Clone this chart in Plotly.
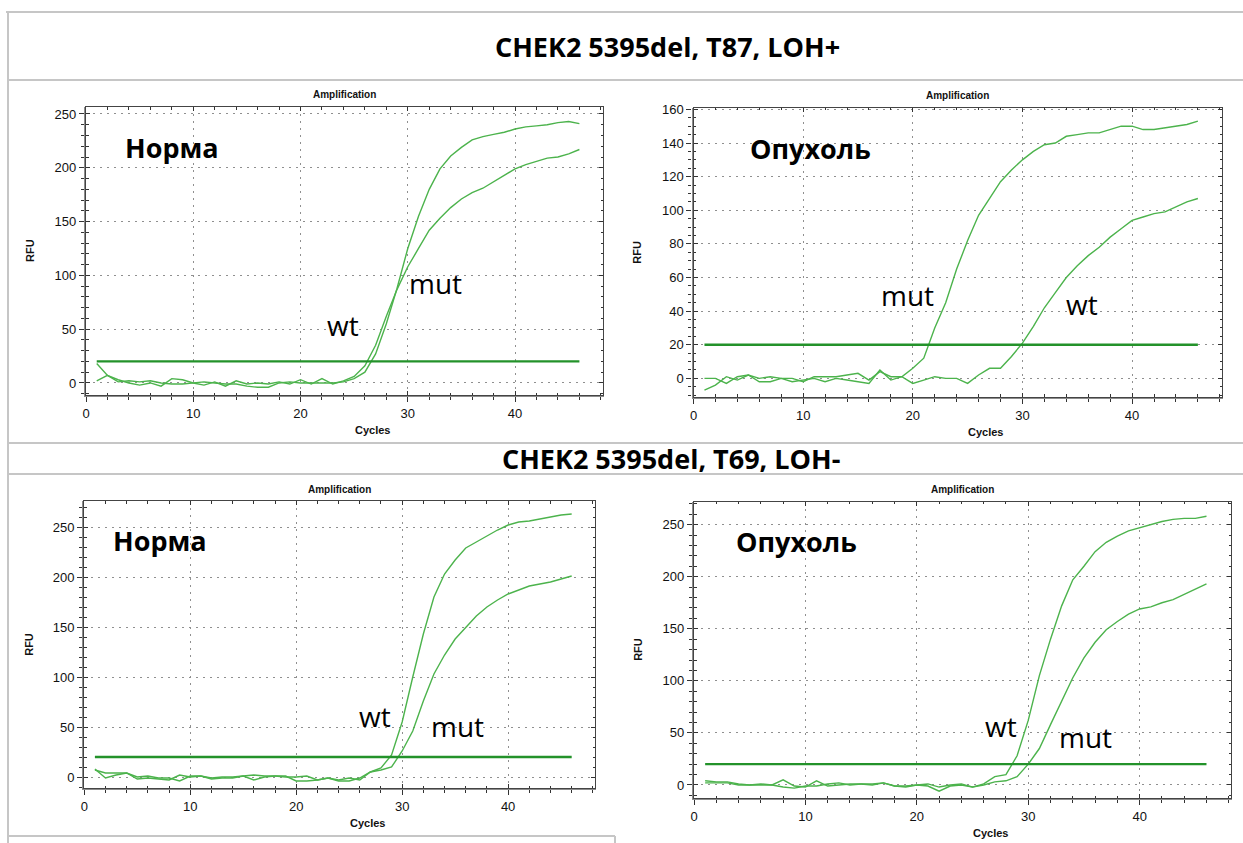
import plotly.graph_objects as go

W, H = 1243, 843
cycles = list(range(1, 47))

# ---- Panel 1: CHEK2 T87 Норма ----
p1_a = [2, 7, 1, 2, 1, 2, 0, -1, -1, 0, 1, 0, -1, -1, -3, -4, -4, 0, 1, 0, 0, 0, 0,
        1, 4, 10, 27, 55, 88, 125, 155, 180, 199, 211, 219, 226, 229, 231, 233, 236,
        238, 239, 240, 242, 243, 241]
p1_b = [18, 7, 3, 0, -2, 0, -3, 4, 3, 0, -2, 1, -3, 2, -1, 0, -1, 1, -1, 3, -1, 4, -1,
        2, 6, 16, 35, 62, 87, 108, 125, 142, 153, 163, 171, 177, 181, 187, 193, 199,
        203, 206, 209, 210, 213, 217]

# ---- Panel 2: CHEK2 T87 Опухоль ----
p2_mut = [-7, -4, 1, -1, 2, 0, 1, 0, 0, -2, 1, 1, 1, 2, 3, -1, 4, 1, 1, 6, 12, 30, 45,
          65, 82, 97, 107, 117, 124, 130, 135, 139, 140, 144, 145, 146, 146, 148, 150,
          150, 148, 148, 149, 150, 151, 153]
p2_wt = [0, 0, -3, 1, 2, -2, -2, 0, -2, -1, 0, -2, 0, -1, -2, -3, 5, -1, 1, -3, -1, 1,
         0, 0, -3, 2, 6, 6, 13, 21, 31, 42, 51, 60, 67, 73, 78, 84, 89, 94, 96, 98, 99,
         102, 105, 107]

# ---- Panel 3: CHEK2 T69 Норма ----
p3_wt = [8, -1, 2, 4, -2, -1, -2, -3, 2, 0, 1, -1, 0, 0, 1, -3, 0, 1, 1, -4, -4, -3,
         -1, -4, -4, -1, 5, 9, 22, 55, 100, 143, 180, 203, 217, 229, 235, 241, 247, 252,
         255, 256, 258, 260, 262, 263]
p3_mut = [7, 4, 4, 4, 0, 1, -1, -1, -4, 1, 1, -2, -1, -1, 1, 2, 1, 1, 0, 0, 1, -3, -1,
          -3, -1, -3, 5, 7, 10, 26, 46, 76, 103, 122, 138, 150, 161, 170, 177, 183, 187,
          191, 193, 195, 198, 201]

# ---- Panel 4: CHEK2 T69 Опухоль ----
p4_wt = [4, 3, 3, 1, 0, 1, 0, 5, -1, -2, 4, -1, 0, 1, 1, 0, 2, -1, -2, 0, -1, -6, -1,
         0, -2, 1, 8, 10, 28, 62, 105, 140, 172, 197, 210, 224, 233, 239, 244, 247, 250,
         253, 255, 256, 256, 258]
p4_mut = [2, 2, 2, 0, 0, 0, 0, -2, -3, -1, -1, 1, 2, 0, 1, 1, 2, -1, -1, 0, 1, -2, 0,
          1, -2, 0, 3, 4, 8, 20, 35, 58, 80, 103, 122, 137, 149, 157, 164, 169, 171, 175,
          178, 183, 188, 193]

threshold_x = [1, 46]
threshold_y = [20, 20]

section_titles = ["CHEK2 5395del, T87, LOH+", "CHEK2 5395del, T69, LOH-"]
panel_names = ["Норма", "Опухоль", "Норма", "Опухоль"]

CURVE = "#4cb34c"
THR = "#23922a"

panels = [
    dict(series=[p1_a, p1_b], dom_x=(86, 603), dom_y=(107, 395), yr=(-11.2, 256.5),
         dt=50, mdt=10, name=(8.0, 219), labels=[("mut", 32.6, 93), ("wt", 24.0, 54)]),
    dict(series=[p2_mut, p2_wt], dom_x=(693.5, 1222), dom_y=(107.7, 396.7), yr=(-10.9, 161),
         dt=20, mdt=5, name=(10.7, 137), labels=[("mut", 19.5, 49.6), ("wt", 35.4, 44)]),
    dict(series=[p3_wt, p3_mut], dom_x=(84.3, 595), dom_y=(501, 788), yr=(-11, 276),
         dt=50, mdt=10, name=(7.1, 237), labels=[("wt", 27.4, 61), ("mut", 35.2, 51)]),
    dict(series=[p4_wt, p4_mut], dom_x=(694, 1231), dom_y=(501.7, 798), yr=(-12.5, 272),
         dt=50, mdt=10, name=(9.2, 234), labels=[("wt", 27.6, 57), ("mut", 35.1, 46)]),
]

fig = go.Figure()
annotations = []
layout_axes = {}
TICKFONT = dict(family="Liberation Sans, Arial", size=13, color="#111")
LBL = dict(family="Liberation Sans, Arial", color="#111")

for i, p in enumerate(panels):
    n = i + 1
    on = n + 4  # overlay axis index (frame with inside ticks)
    xa = "x" if n == 1 else f"x{n}"
    ya = "y" if n == 1 else f"y{n}"
    oxa, oya = f"x{on}", f"y{on}"
    for s in p["series"]:
        fig.add_trace(go.Scatter(x=cycles, y=s, mode="lines", xaxis=xa, yaxis=ya,
                                 line=dict(color=CURVE, width=1.4), showlegend=False,
                                 hoverinfo="skip"))
    fig.add_trace(go.Scatter(x=threshold_x, y=threshold_y, mode="lines", xaxis=xa, yaxis=ya,
                             line=dict(color=THR, width=2.3), showlegend=False,
                             hoverinfo="skip"))
    # invisible copy so the frame overlay subplot is instantiated
    fig.add_trace(go.Scatter(x=threshold_x, y=threshold_y, mode="lines", xaxis=oxa, yaxis=oya,
                             line=dict(color=THR, width=0), opacity=0, showlegend=False,
                             hoverinfo="skip"))
    x0, x1 = p["dom_x"]
    y0, y1 = p["dom_y"]
    xdom = [x0 / W, x1 / W]
    ydom = [1 - y1 / H, 1 - y0 / H]
    xr = [0, 48.2]
    yr = list(p["yr"])
    main = dict(showline=True, linecolor="#8c8c8c", linewidth=2.4, mirror=False,
                ticks="outside", ticklen=5, tickcolor="#333", tickwidth=1.3,
                showgrid=True, gridcolor="#8f8f8f", griddash="2px,5px", gridwidth=1,
                zeroline=False, tickfont=TICKFONT)
    frame = dict(showline=True, linecolor="#444", linewidth=1, mirror="allticks",
                 ticks="inside", ticklen=4, tickcolor="#333", tickwidth=1.2,
                 showgrid=False, zeroline=False, showticklabels=False)
    layout_axes["xaxis" if n == 1 else f"xaxis{n}"] = dict(
        domain=xdom, range=xr, dtick=10, tick0=0, anchor=ya,
        minor=dict(dtick=2, ticks="outside", ticklen=3, tickcolor="#333", showgrid=False),
        **main)
    layout_axes["yaxis" if n == 1 else f"yaxis{n}"] = dict(
        domain=ydom, range=yr, dtick=p["dt"], tick0=0, anchor=xa,
        minor=dict(dtick=p["mdt"], ticks="outside", ticklen=3, tickcolor="#333",
                   showgrid=False), **main)
    layout_axes[f"xaxis{on}"] = dict(
        domain=xdom, range=xr, dtick=10, tick0=0, anchor=oya, overlaying=xa,
        minor=dict(dtick=2, ticks="inside", ticklen=2.5, tickcolor="#333", showgrid=False),
        **frame)
    layout_axes[f"yaxis{on}"] = dict(
        domain=ydom, range=yr, dtick=p["dt"], tick0=0, anchor=oxa, overlaying=ya,
        minor=dict(dtick=p["mdt"], ticks="inside", ticklen=2.5, tickcolor="#333",
                   showgrid=False), **frame)
    # panel texts
    cx = (x0 + x1) / 2
    annotations.append(dict(text="<b>Amplification</b>", x=cx / W, y=1 - (y0 - 12) / H,
                            xref="paper", yref="paper", showarrow=False,
                            xanchor="center", yanchor="middle",
                            font=dict(size=10, **LBL)))
    annotations.append(dict(text="<b>Cycles</b>", x=(cx + 28) / W, y=1 - (y1 + 35) / H,
                            xref="paper", yref="paper", showarrow=False,
                            xanchor="center", yanchor="middle",
                            font=dict(size=11, **LBL)))
    annotations.append(dict(text="<b>RFU</b>", x=(x0 - 56) / W, y=1 - ((y0 + y1) / 2) / H,
                            xref="paper", yref="paper", showarrow=False, textangle=-90,
                            xanchor="center", yanchor="middle",
                            font=dict(size=11, **LBL)))
    annotations.append(dict(text=f"<b>{panel_names[i]}</b>", x=p["name"][0], y=p["name"][1],
                            xref=xa, yref=ya, showarrow=False,
                            xanchor="center", yanchor="middle",
                            font=dict(family="Open Sans", size=27, color="#000")))
    for t, lx, ly in p["labels"]:
        annotations.append(dict(text=t, x=lx, y=ly, xref=xa, yref=ya, showarrow=False,
                                xanchor="center", yanchor="middle",
                                font=dict(family="Open Sans", size=28, color="#000")))

annotations.append(dict(text=f"<b>{section_titles[0]}</b>", x=668 / W, y=1 - 46 / H,
                        xref="paper", yref="paper", showarrow=False,
                        xanchor="center", yanchor="middle",
                        font=dict(family="Open Sans", size=27, color="#000")))
annotations.append(dict(text=f"<b>{section_titles[1]}</b>", x=671 / W, y=1 - 458 / H,
                        xref="paper", yref="paper", showarrow=False,
                        xanchor="center", yanchor="middle",
                        font=dict(family="Open Sans", size=27, color="#000")))

GRAY = "#c6c6c6"
def hline(y, xa0, xa1):
    return dict(type="line", xref="paper", yref="paper", x0=xa0 / W, x1=xa1 / W,
                y0=1 - y / H, y1=1 - y / H, line=dict(color=GRAY, width=2))
def vline(x, ya0, ya1):
    return dict(type="line", xref="paper", yref="paper", x0=x / W, x1=x / W,
                y0=1 - ya0 / H, y1=1 - ya1 / H, line=dict(color=GRAY, width=2))

shapes = [hline(12, 6, W), vline(8, 12, H), hline(80, 8, W), hline(443, 8, W),
          hline(474, 8, W), hline(836, 8, 615), vline(615, 836, H)]

fig.update_layout(width=W, height=H, margin=dict(l=0, r=0, t=0, b=0, autoexpand=False),
                  paper_bgcolor="white", plot_bgcolor="white",
                  annotations=annotations, shapes=shapes, **layout_axes)

fig.write_html("out.html", config={"displayModeBar": False},
               post_script="document.body.style.margin='0';document.body.style.overflow='hidden';")
